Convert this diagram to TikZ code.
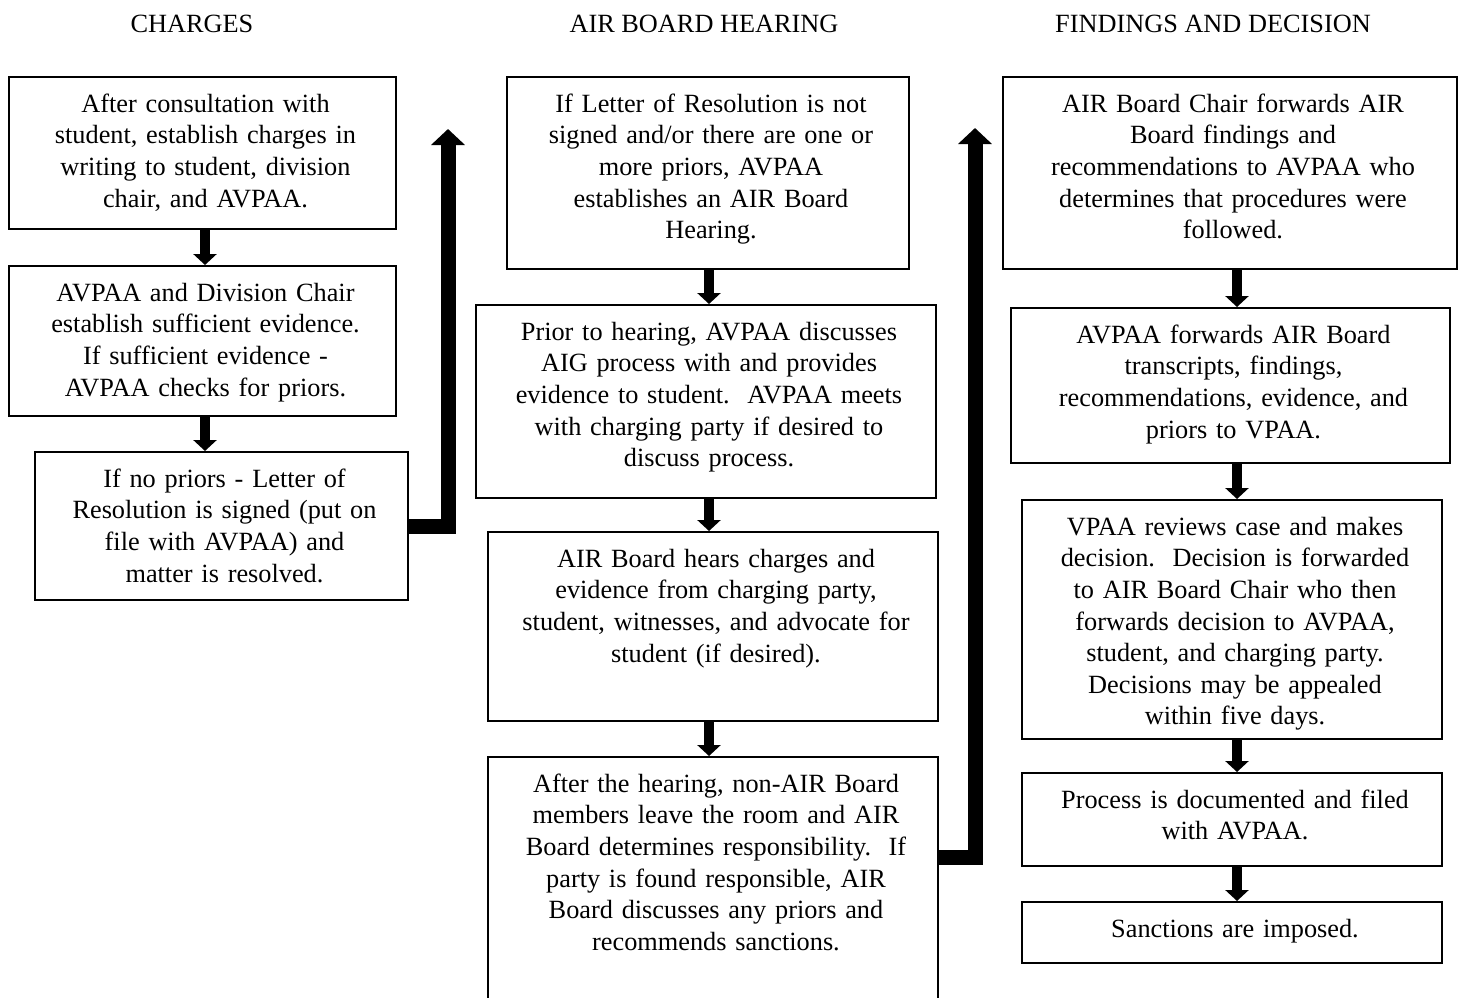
\documentclass[tikz,border=0pt]{standalone}
\usepackage{fontspec}
\setmainfont{Liberation Serif}
\usetikzlibrary{arrows.meta}
\tikzset{
  flowbox/.style={draw, line width=2pt, inner sep=0pt, anchor=north west},
  flowtext/.style={anchor=north, align=center, inner sep=0pt, font=\fontsize{26.3}{31.6}\selectfont},
  headtext/.style={anchor=base, inner sep=0pt, font=\fontsize{26.3}{31.6}\selectfont},
  smallarrow/.style={line width=10pt, -{Triangle[width=23pt,length=11pt]}},
  bigarrow/.style={line width=15pt, line join=miter, -{Triangle[width=33pt,length=16pt]}},
}
\newcommand\flowstep[6]{%
  \node[flowbox, minimum width=#4-#2, minimum height=#5-#3] (#1) at (#2,#3) {};
  \node[flowtext, text width=#4-#2-6] (#1t) at ([xshift=3pt,yshift=-14pt]#1.north) {\strut #6};
}
\begin{document}
\begin{tikzpicture}[x=1pt,y=-1pt]
\clip (0,0) rectangle (1460,998);
\fill[white] (0,0) rectangle (1460,998);

\node[headtext] (h1) at (192,33) {CHARGES};
\node[headtext] (h2) at (704,33) {AIR BOARD HEARING};
\node[headtext] (h3) at (1213,33) {FINDINGS AND DECISION};

% column 1
\flowstep{B1}{8}{76}{395}{228}{After consultation with\\ student, establish charges in\\ writing to student, division\\ chair, and AVPAA.}
\flowstep{B2}{8}{265}{395}{415}{AVPAA and Division Chair\\ establish sufficient evidence.\\ If sufficient evidence -\\ AVPAA checks for priors.}
\flowstep{B3}{34}{451}{407}{599}{If no priors - Letter of\\ Resolution is signed (put on\\ file with AVPAA) and\\ matter is resolved.}

% column 2
\flowstep{C1}{506}{76}{908}{268}{If Letter of Resolution is not\\ signed and/or there are one or\\ more priors, AVPAA\\ establishes an AIR Board\\ Hearing.}
\flowstep{C2}{475}{304}{935}{497}{Prior to hearing, AVPAA discusses\\ AIG process with and provides\\ evidence to student.\ \ AVPAA meets\\ with charging party if desired to\\ discuss process.}
\flowstep{C3}{487}{531}{937}{720}{AIR Board hears charges and\\ evidence from charging party,\\ student, witnesses, and advocate for\\ student (if desired).}
\flowstep{C4}{487}{756}{937}{1010}{After the hearing, non-AIR Board\\ members leave the room and AIR\\ Board determines responsibility.\ \ If\\ party is found responsible, AIR\\ Board discusses any priors and\\ recommends sanctions.}

% column 3
\flowstep{D1}{1002}{76}{1456}{268}{AIR Board Chair forwards AIR\\ Board findings and\\ recommendations to AVPAA who\\ determines that procedures were\\ followed.}
\flowstep{D2}{1010}{307}{1449}{462}{AVPAA forwards AIR Board\\ transcripts, findings,\\ recommendations, evidence, and\\ priors to VPAA.}
\flowstep{D3}{1021}{499}{1441}{738}{VPAA reviews case and makes\\ decision.\ \ Decision is forwarded\\ to AIR Board Chair who then\\ forwards decision to AVPAA,\\ student, and charging party.\\ Decisions may be appealed\\ within five days.}
\flowstep{D4}{1021}{772}{1441}{865}{Process is documented and filed\\ with AVPAA.}
\flowstep{D5}{1021}{901}{1441}{962}{Sanctions are imposed.}

% small arrows
\coordinate (x1) at (205,0);
\coordinate (x2) at (709,0);
\coordinate (x3) at (1237,0);
\draw[smallarrow] (B1.south -| x1) -- (B2.north -| x1);
\draw[smallarrow] (B2.south -| x1) -- (B3.north -| x1);
\draw[smallarrow] (C1.south -| x2) -- (C2.north -| x2);
\draw[smallarrow] (C2.south -| x2) -- (C3.north -| x2);
\draw[smallarrow] (C3.south -| x2) -- (C4.north -| x2);
\draw[smallarrow] (D1.south -| x3) -- (D2.north -| x3);
\draw[smallarrow] (D2.south -| x3) -- (D3.north -| x3);
\draw[smallarrow] (D3.south -| x3) -- (D4.north -| x3);
\draw[smallarrow] (D4.south -| x3) -- (D5.north -| x3);

% big arrows
\coordinate (a1corner) at (448,526);
\coordinate (a1tip) at (448,129);
\draw[bigarrow] (B3.east |- a1corner) -- (a1corner) -- (a1tip);
\coordinate (a2corner) at (975,857);
\coordinate (a2tip) at (975,128);
\draw[bigarrow] (C4.east |- a2corner) -- (a2corner) -- (a2tip);
\end{tikzpicture}
\end{document}
